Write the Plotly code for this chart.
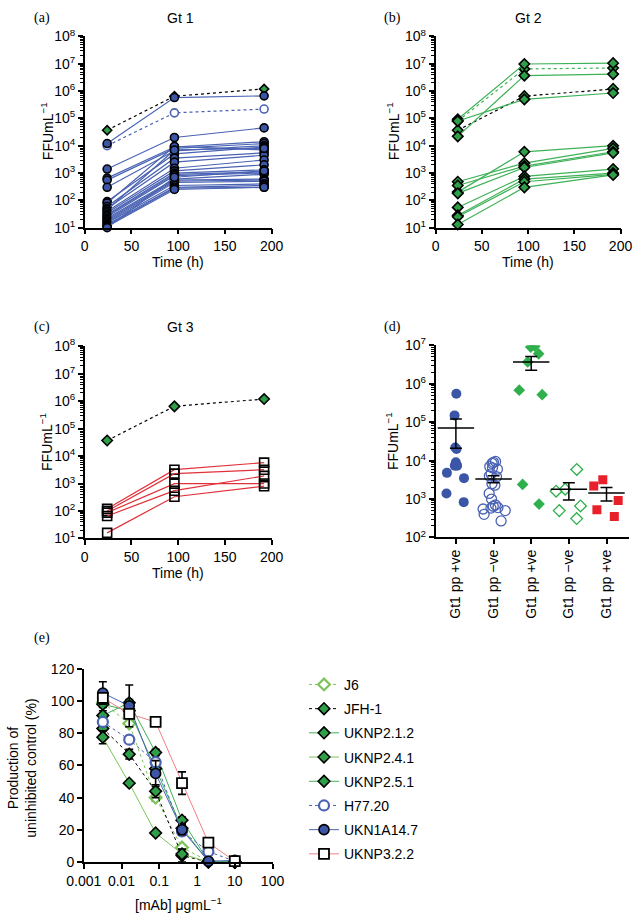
import numpy as np
import plotly.graph_objects as go

W, H = 643, 920
FONT = "Liberation Sans"

# ---- data -------------------------------------------------------------
times = [24, 96, 192]

# (a) Gt 1 isolates, FFU/mL at 24, 96, 192 h
gt1_t24 = [12000, 1400, 650, 550, 300, 90, 80, 60, 50, 45, 40, 35, 30, 28, 25, 22, 20, 18, 16, 15, 13, 12, 11, 10]
gt1_t96 = [580000, 20000, 9000, 8000, 6500, 5000, 9500, 3500, 2500, 7000, 1500, 1200,
           1000, 900, 800, 600, 550, 500, 450, 350, 300, 280, 250, 700]
gt1_t192 = [670000, 45000, 14000, 12000, 10000, 9000, 7000, 5500, 4500, 8000, 3000, 2000,
            1300, 1100, 1000, 900, 600, 550, 500, 400, 350, 300, 300, 1200]
h77_kin = [10000, 160000, 220000]
jfh1_kin = [37000, 650000, 1200000]

# (b) Gt 2 isolates
gt2_t24 = [93000, 22000, 80000, 200, 480, 350, 180, 55, 28, 25, 13]
gt2_t96 = [9800000, 3700000, 500000, 6000, 2300, 1800, 1600, 750, 600, 480, 300]
gt2_t192 = [10500000, 4200000, 850000, 10000, 8000, 6000, 5500, 1400, 1000, 900, 850]
j6_kin = [80000, 6500000, 7000000]

# (c) Gt 3 isolates
gt3_t24 = [120, 100, 87, 66, 16]
gt3_t96 = [3200, 2300, 990, 550, 330]
gt3_t192 = [5800, 3200, 1000, 1900, 800]

# (d) peak titres per group
d_labels = ["Gt1 pp +ve", "Gt1 pp \u2212ve", "Gt1 pp +ve", "Gt1 pp \u2212ve", "Gt1 pp +ve"]
d_gt1_pos = [550000, 150000, 22000, 20000, 9000, 7400, 7400, 4800, 3500, 1400, 830]
d_gt1_neg = [9500, 9000, 8500, 7000, 6500, 6000, 4500, 4000, 3800, 2500, 2300, 1400,
             1000, 700, 650, 600, 580, 550, 500, 400, 270]
d_gt2_pos = [9000000, 9500000, 6000000, 3700000, 520000, 680000, 2400, 740]
d_gt2_neg = [5900, 1800, 1600, 660, 500, 310]
d_gt3_pos = [3200, 2200, 920, 530, 350]

# (e) neutralisation curves
mab_conc = [0.0032, 0.016, 0.08, 0.4, 2, 10]
e_names = ["J6", "JFH-1", "UKNP2.1.2", "UKNP2.4.1", "UKNP2.5.1", "H77.20", "UKN1A14.7", "UKNP3.2.2"]
e_vals = [
    [99, 86, 40, 9, 0.5, 0],
    [83, 67, 44, 4, 0, 0],
    [91, 99, 68, 26, 0.5, 0],
    [77.5, 49, 18, 5, 0, 0],
    [98, 94, 58, 21, 0.5, 0],
    [87, 76, 62, 19, 6.5, 0.5],
    [105, 97, 55, 20, 0.5, 1],
    [102, 92, 87, 49, 12, 0.5],
]
e_errs = [
    [1, 2, 2, 1, 0, 0],
    [4, 3, 4, 4, 0, 0],
    [3, 2, 2, 2, 0, 0],
    [4, 0, 0, 0, 0, 0],
    [2, 3, 3, 2, 0, 0],
    [2, 2, 2, 2, 0, 0],
    [7, 13, 8, 3, 0, 0],
    [3, 2, 1, 7, 1, 0],
]

# ---- styles -------------------------------------------------------------
BLUE = "#3b56a6"
BLUE_L = "#4a63b3"
GREEN = "#2f9e48"
GREEN_L = "#3fb157"
LGREEN = "#7cc45a"
RED = "#e2303a"
PINK = "#f07f86"

def fx(p):
    return p / W

def fy(p):
    return 1 - p / H

fig = go.Figure()


def kinetics(xa, ya, y24, y96, y192, lcolor, symbol, fill, dash="solid", mline="black", msize=8):
    for a, b, c in zip(y24, y96, y192):
        fig.add_trace(go.Scatter(
            x=times, y=[a, b, c], xaxis=xa, yaxis=ya, mode="lines+markers",
            line=dict(color=lcolor, width=1.2, dash=dash),
            marker=dict(symbol=symbol, size=msize, color=fill, line=dict(color=mline, width=1.6)),
            showlegend=False, cliponaxis=False, hoverinfo="skip"))


# (a)
kinetics("x", "y", [jfh1_kin[0]], [jfh1_kin[1]], [jfh1_kin[2]], "black", "diamond", GREEN, dash="dot", msize=7)
kinetics("x", "y", [h77_kin[0]], [h77_kin[1]], [h77_kin[2]], BLUE_L, "circle", "white", dash="dot", mline=BLUE_L)
kinetics("x", "y", gt1_t24, gt1_t96, gt1_t192, BLUE_L, "circle", BLUE)

# (b)
kinetics("x2", "y2", [j6_kin[0]], [j6_kin[1]], [j6_kin[2]], GREEN_L, "diamond", GREEN, dash="dot")
kinetics("x2", "y2", [jfh1_kin[0]], [jfh1_kin[1]], [jfh1_kin[2]], "black", "diamond", GREEN, dash="dot")
kinetics("x2", "y2", gt2_t24, gt2_t96, gt2_t192, GREEN_L, "diamond", GREEN)

# (c)
kinetics("x3", "y3", [jfh1_kin[0]], [jfh1_kin[1]], [jfh1_kin[2]], "black", "diamond", GREEN, dash="dot")
kinetics("x3", "y3", gt3_t24, gt3_t96, gt3_t192, RED, "square-open", "black", msize=9)

# (d) scatter with mean +/- SEM
d_groups = [
    (d_gt1_pos, dict(symbol="circle", size=10, color=BLUE)),
    (d_gt1_neg, dict(symbol="circle-open", size=10, color=BLUE_L, line=dict(width=1.3))),
    (d_gt2_pos, dict(symbol="diamond", size=9, color="#2fb04c")),
    (d_gt2_neg, dict(symbol="diamond-open", size=9, color="#2fb04c", line=dict(width=1.3))),
    (d_gt3_pos, dict(symbol="square", size=9, color="#e8202a")),
]
for i, (vals, mk) in enumerate(d_groups):
    fig.add_trace(go.Box(
        x=[i] * len(vals), y=vals, xaxis="x4", yaxis="y4", boxpoints="all", jitter=1.0,
        pointpos=0, width=0.8, marker=mk, line=dict(width=0, color="rgba(0,0,0,0)"),
        fillcolor="rgba(0,0,0,0)", showlegend=False, hoverinfo="skip"))
    arr = np.array(vals, dtype=float)
    mean = arr.mean()
    sem = arr.std(ddof=1) / np.sqrt(len(arr))
    fig.add_trace(go.Scatter(
        x=[i], y=[mean], xaxis="x4", yaxis="y4", mode="markers",
        marker=dict(symbol="line-ew", size=26, line=dict(color="black", width=1.5)),
        error_y=dict(type="data", array=[sem], color="black", thickness=1.5, width=6),
        showlegend=False, hoverinfo="skip"))

# (e) neutralisation
e_styles = [
    dict(line=dict(color=LGREEN, width=1, dash="dot"),
         marker=dict(symbol="diamond", size=9, color="white", line=dict(color=LGREEN, width=2.2))),
    dict(line=dict(color="black", width=1, dash="dot"),
         marker=dict(symbol="diamond", size=9, color=GREEN, line=dict(color="black", width=1.6))),
    dict(line=dict(color=GREEN_L, width=1),
         marker=dict(symbol="diamond", size=9, color=GREEN, line=dict(color="black", width=1.6))),
    dict(line=dict(color=LGREEN, width=1),
         marker=dict(symbol="diamond", size=9, color=GREEN, line=dict(color="black", width=1.6))),
    dict(line=dict(color=GREEN_L, width=1),
         marker=dict(symbol="diamond", size=9, color=GREEN, line=dict(color="black", width=1.6))),
    dict(line=dict(color=BLUE_L, width=1, dash="dot"),
         marker=dict(symbol="circle", size=10, color="white", line=dict(color=BLUE_L, width=2.2))),
    dict(line=dict(color=BLUE_L, width=1),
         marker=dict(symbol="circle", size=10, color=BLUE, line=dict(color="black", width=1.6))),
    dict(line=dict(color=PINK, width=1),
         marker=dict(symbol="square", size=10, color="white", line=dict(color="black", width=1.8))),
]
for name, vals, errs, st in zip(e_names, e_vals, e_errs, e_styles):
    fig.add_trace(go.Scatter(
        x=mab_conc, y=vals, xaxis="x5", yaxis="y5", mode="lines+markers", name=name,
        legendgroup=name, error_y=dict(type="data", array=errs, color="black", thickness=1.6, width=4),
        cliponaxis=False, hoverinfo="skip", **st))

# ---- axes -------------------------------------------------------------
tick_font = dict(family=FONT, size=14, color="black")
axis_common = dict(showline=True, linecolor="black", linewidth=1.5, ticks="outside", ticklen=5,
                   tickwidth=1.5, tickcolor="black", showgrid=False, zeroline=False, tickfont=tick_font)


def log_y(lo, hi, dom, anchor):
    minor_vals = [m * 10 ** k for k in range(lo, hi) for m in range(2, 10)]
    return dict(axis_common, type="log", range=[lo, hi], domain=dom, anchor=anchor,
                tickvals=[10 ** k for k in range(lo, hi + 1)],
                ticktext=[f"10<sup>{k}</sup>" for k in range(lo, hi + 1)],
                minor=dict(tickmode="array", tickvals=minor_vals, ticks="outside", ticklen=3,
                           tickwidth=1, tickcolor="black"))


def time_x(dom, anchor):
    return dict(axis_common, range=[0, 200], domain=dom, anchor=anchor, tickvals=[0, 50, 100, 150, 200])


fig.update_layout(
    xaxis=time_x([fx(70), fx(266)], "y"),
    yaxis=log_y(1, 8, [fy(222), fy(27)], "x"),
    xaxis2=time_x([fx(438), fx(632)], "y2"),
    yaxis2=log_y(1, 8, [fy(222), fy(27)], "x2"),
    xaxis3=time_x([fx(70), fx(266)], "y3"),
    yaxis3=log_y(1, 8, [fy(539), fy(343)], "x3"),
    xaxis4=dict(axis_common, range=[-0.54, 4.6], domain=[fx(438), fx(641)], anchor="y4",
                tickvals=list(range(len(d_labels))), ticktext=d_labels, tickangle=-90),
    yaxis4=log_y(2, 7, [fy(538), fy(342)], "x4"),
    xaxis5=dict(axis_common, type="log", range=[-3, 2], domain=[fx(69), fx(267)], anchor="y5",
                tickvals=[0.001, 0.01, 0.1, 1, 10, 100],
                ticktext=["0.001", "0.01", "0.1", "1", "10", "100"]),
    yaxis5=dict(axis_common, range=[0, 120], domain=[fy(869), fy(672)], anchor="x5",
                tickvals=[0, 20, 40, 60, 80, 100, 120]),
)

# ---- text -------------------------------------------------------------
def label(text, x, y, size=13, family=FONT, angle=0, xanchor="center"):
    fig.add_annotation(text=text, x=fx(x), y=fy(y), xref="paper", yref="paper", showarrow=False,
                       xanchor=xanchor, yanchor="middle", textangle=angle,
                       font=dict(family=family, size=size, color="black"))


SERIF = "Liberation Serif"
FFU = "FFUmL<sup>\u22121</sup>"
label("(a)", 15, 8, 14, SERIF, xanchor="left")
label("Gt 1", 170, 8, 14)
label(FFU, 30, 124, 14, angle=-90)
label("Time (h)", 168, 257, 14)

label("(b)", 382, 8, 14, SERIF, xanchor="left")
label("Gt 2", 535, 8, 14)
label(FFU, 393, 124, 14, angle=-90)
label("Time (h)", 535, 257, 14)

label("(c)", 15, 323, 14, SERIF, xanchor="left")
label("Gt 3", 170, 323, 14)
label(FFU, 30, 441, 14, angle=-90)
label("Time (h)", 168, 574, 14)

label("(d)", 382, 323, 14, SERIF, xanchor="left")
label(FFU, 393, 440, 14, angle=-90)

label("(e)", 15, 641, 14, SERIF, xanchor="left")
label("Production of<br>uninhibited control (%)", 4, 773, 14, angle=-90)
label("[mAb] \u03bcgmL<sup>\u22121</sup>", 168, 912, 14)

fig.update_layout(
    width=W, height=H, margin=dict(l=0, r=0, t=0, b=0),
    plot_bgcolor="white", paper_bgcolor="white",
    font=dict(family=FONT, size=13, color="black"),
    showlegend=True,
    legend=dict(x=fx(300), y=fy(672), xanchor="left", yanchor="top", tracegroupgap=3,
                traceorder="grouped", font=dict(family=FONT, size=14, color="black"),
                bgcolor="rgba(0,0,0,0)", itemclick=False),
)

# the page's default body margin would push the figure off the window
fig.write_html("out.html", config={"displayModeBar": False},
               post_script="document.body.style.margin='0';document.body.style.overflow='hidden';")
